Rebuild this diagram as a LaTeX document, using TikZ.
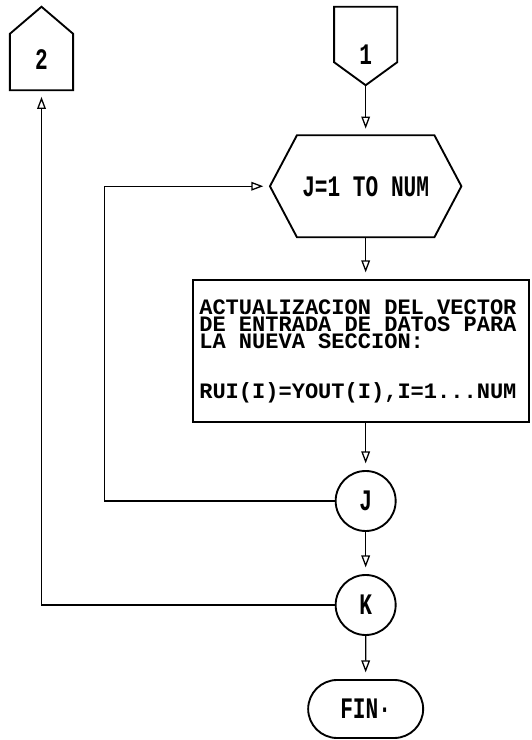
\documentclass[tikz,border=0pt]{standalone}
\usepackage{fontspec}
\setmonofont{Liberation Mono}
\newfontfamily\tallfont[FakeStretch=0.71]{Liberation Mono}
\usetikzlibrary{arrows.meta, calc, positioning, shapes.misc}

\begin{document}
\begin{tikzpicture}[
    shp/.style={draw, line width=1.6pt},
    flow/.style={line width=1.1pt, shorten >=2mm,
                 -{Triangle[open, length=3.6mm, width=2.6mm]}},
    lbl/.style={font=\tallfont\fontsize{25.4}{28}\selectfont\bfseries},
    conn/.style={lbl, inner sep=0pt, minimum width=1.88cm, text depth=0pt},
    circ/.style={shp, lbl, circle, minimum size=1.8cm, inner sep=0pt},
    boxtxt/.style={font=\ttfamily\bfseries\fontsize{18.8}{14.9}\selectfont,
                   align=left, inner sep=0pt},
]
\useasboundingbox (0,0) rectangle (15.93,22.2);
\node[conn, minimum height=2.49cm, text height=1.26cm] (c2) at (1.245,20.745) {2};
\draw[shp] (c2.south west) -- (c2.south east) -- ([yshift=-0.81cm]c2.north east)
   -- (c2.north) -- ([yshift=-0.81cm]c2.north west) -- cycle;
\node[conn, minimum height=2.34cm, text height=1.11cm] (c1) at (10.97,20.82) {1};
\draw[shp] (c1.north west) -- (c1.north east) -- ([yshift=0.69cm]c1.south east)
   -- (c1.south) -- ([yshift=0.69cm]c1.south west) -- cycle;
\node[lbl, minimum width=5.73cm, minimum height=3.045cm, inner sep=0pt] (hex)
   at (10.97,16.6125) {J=1 TO NUM};
\draw[shp] ([xshift=0.81cm]hex.north west) -- ([xshift=-0.81cm]hex.north east)
   -- (hex.east) -- ([xshift=-0.81cm]hex.south east)
   -- ([xshift=0.81cm]hex.south west) -- (hex.west) -- cycle;
\node[shp, minimum width=10.08cm, minimum height=4.26cm] (upd) at (10.83,11.67) {};
\node[boxtxt, anchor=north west] (updtxt) at ([xshift=0.21cm, yshift=-0.6cm]upd.north west)
   {ACTUALIZACION DEL VECTOR\\ DE ENTRADA DE DATOS PARA\\ LA NUEVA SECCION:\\[27.6pt]
    RUI(I)=YOUT(I),I=1...NUM};
\node[circ] (J) at (10.97,7.17) {J};
\node[circ] (K) at (10.97,4.05) {K};
\node[shp, lbl, rounded rectangle, minimum width=3.45cm, minimum height=1.74cm,
      inner sep=0pt] (fin) at (10.97,0.93) {FIN·};
\draw[flow] (c1.south) -- (hex.north);
\draw[flow] (hex.south) -- (hex.south |- upd.north);
\draw[flow] (J.north |- upd.south) -- (J.north);
\draw[flow] (J) -- (K);
\draw[flow] (K) -- (fin);
\draw[flow] (J.west) -| ([xshift=-4.955cm]hex.west) -- (hex.west);
\draw[flow] (K.west) -| (c2.south);
\end{tikzpicture}
\end{document}
